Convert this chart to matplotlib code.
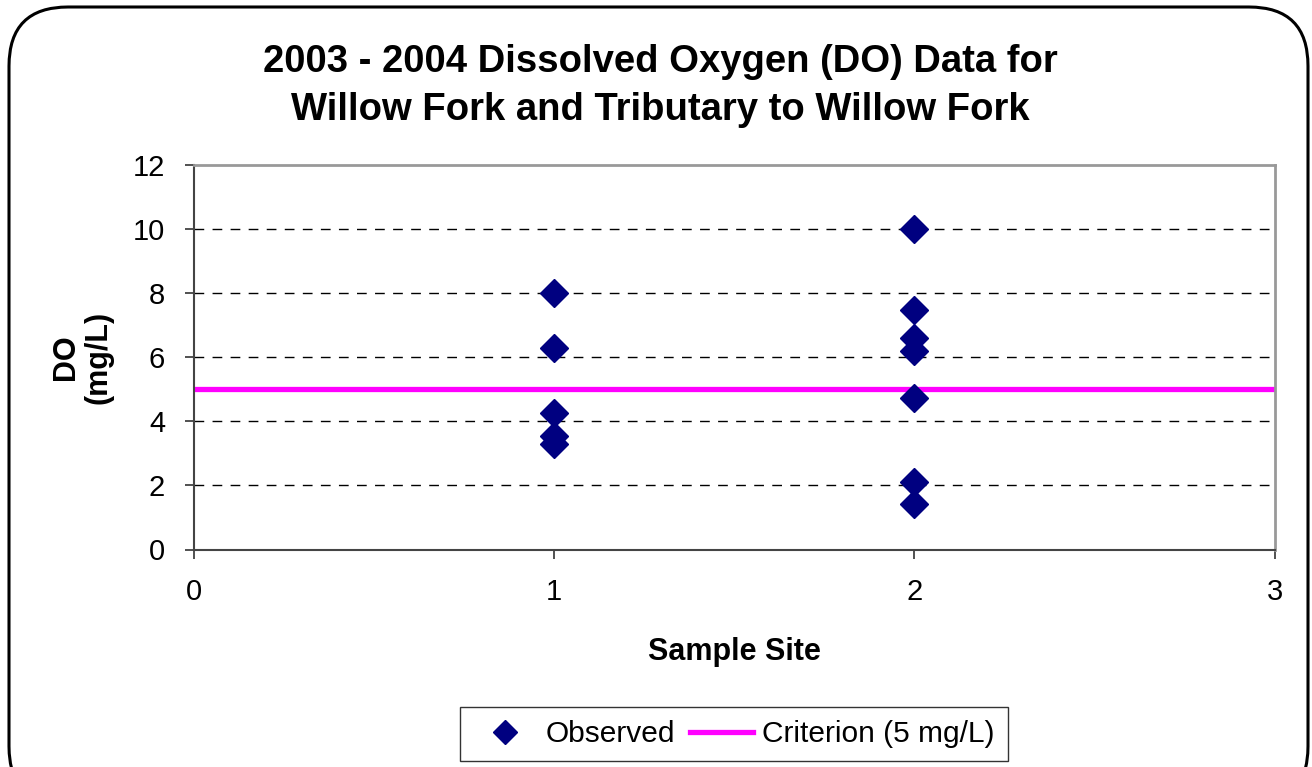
import matplotlib.pyplot as plt
from matplotlib.patches import FancyBboxPatch
from matplotlib.lines import Line2D

plt.rcParams['font.family'] = ['Liberation Sans', 'DejaVu Sans']

# 数据: 采样点与溶解氧观测值
site1_do = [8.0, 6.3, 4.25, 3.55, 3.3]
site2_do = [10.0, 7.47, 6.6, 6.2, 4.72, 2.1, 1.42]
sites = [1] * len(site1_do) + [2] * len(site2_do)
do_values = site1_do + site2_do
criterion = 5
x_ticks = [0, 1, 2, 3]
y_ticks = [0, 2, 4, 6, 8, 10, 12]

fig = plt.figure(figsize=(13.12, 7.67), dpi=100)
ax = fig.add_axes([193.5 / 1312, 1 - 549.5 / 767, (1274.5 - 193.5) / 1312, (549.5 - 165) / 767])

# 外框 圆角矩形
frame = FancyBboxPatch((9 / 1312, -0.05), (1308 - 9) / 1312, 1 - 7 / 767 + 0.05,
                       boxstyle='round,pad=0,rounding_size=0.045',
                       transform=fig.transFigure, fill=False, edgecolor='black',
                       linewidth=2.2, mutation_aspect=1312 / 767, clip_on=False)
fig.patches.append(frame)

# 网格线
for y in y_ticks[1:-1]:
    ax.axhline(y, color='black', linewidth=1, linestyle=(0, (7, 6)), zorder=1)

ax.axhline(criterion, color='#ff00ff', linewidth=3.8, zorder=2)
ax.plot(sites, do_values, linestyle='none', marker='D', markersize=14.5,
        color='#000080', zorder=3)

ax.set_xlim(0, 3)
ax.set_ylim(0, 12)
ax.set_xticks(x_ticks)
ax.set_yticks(y_ticks)
ax.tick_params(axis='both', direction='out', length=6.5, width=1.2, color='#333333',
               labelsize=21)
ax.tick_params(axis='x', pad=14)
ax.tick_params(axis='y', pad=14)
for side in ['top', 'right']:
    ax.spines[side].set_color('#999999')
    ax.spines[side].set_linewidth(2)
for side in ['left', 'bottom']:
    ax.spines[side].set_color('#444444')
    ax.spines[side].set_linewidth(1.5)

ax.set_xlabel('Sample Site', fontsize=22, fontweight='bold', labelpad=22)
ax.set_ylabel('DO\n(mg/L)', fontsize=22, fontweight='bold', labelpad=14, linespacing=1.1)

fig.text(0.503, 0.888, '2003 - 2004 Dissolved Oxygen (DO) Data for\nWillow Fork and Tributary to Willow Fork',
         ha='center', va='center', fontsize=27.5, fontweight='bold', linespacing=1.45)

handles = [Line2D([], [], linestyle='none', marker='D', markersize=12, color='#000080'),
           Line2D([], [], color='#ff00ff', linewidth=3.8)]
leg = fig.legend(handles, ['Observed', 'Criterion (5 mg/L)'], loc='center',
                 bbox_to_anchor=(734 / 1312, 1 - 734 / 767), ncol=2, fontsize=21.5,
                 frameon=True, fancybox=False, edgecolor='black', handlelength=2.1,
                 columnspacing=0.5, handletextpad=0.3, borderpad=0.45, borderaxespad=0)
leg.get_frame().set_linewidth(1)

fig.savefig('out.png', dpi=100)
